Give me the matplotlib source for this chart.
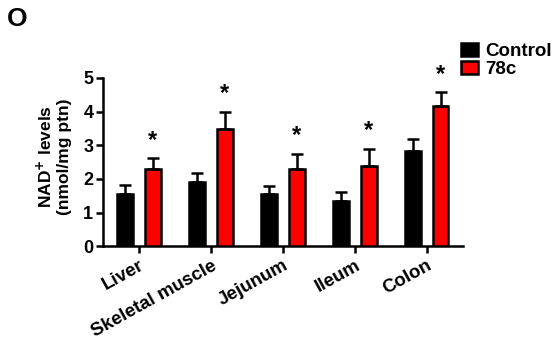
import numpy as np
import matplotlib
matplotlib.use("Agg")
import matplotlib.pyplot as plt

plt.rcParams['font.family'] = ['Liberation Sans', 'DejaVu Sans']
plt.rcParams['font.weight'] = 'bold'

tissues = ["Liver", "Skeletal muscle", "Jejunum", "Ileum", "Colon"]
control_mean = [1.55, 1.92, 1.55, 1.33, 2.82]
control_err = [0.28, 0.26, 0.23, 0.29, 0.35]
treat_mean = [2.30, 3.47, 2.30, 2.38, 4.17]
treat_err = [0.31, 0.53, 0.45, 0.50, 0.40]
signif = ["*", "*", "*", "*", "*"]

fig = plt.figure(figsize=(5.57, 3.40), dpi=100)
ax = fig.add_axes([0.185, 0.276, 0.646, 0.495])

x = np.arange(len(tissues))
off = 0.19
w = 0.22
lw = 1.8

ax.bar(x - off, control_mean, w, color="black", edgecolor="black", linewidth=lw,
       yerr=[np.zeros(len(x)), control_err], capsize=4,
       error_kw=dict(elinewidth=lw, capthick=lw, ecolor="black"), label="Control", zorder=3)
ax.bar(x + off, treat_mean, w, color="#ff0000", edgecolor="black", linewidth=lw,
       yerr=[np.zeros(len(x)), treat_err], capsize=4,
       error_kw=dict(elinewidth=lw, capthick=lw, ecolor="black"), label="78c", zorder=3)

for xi, m, e, s in zip(x, treat_mean, treat_err, signif):
    ax.text(xi + off, m + e + 0.2, s, ha="center", va="bottom", fontsize=17, fontweight="bold")

ax.set_xlim(-0.5, 4.5)
ax.set_ylim(0, 5)
ax.set_yticks(range(6))
ax.set_xticks(x)
ax.set_xticklabels(tissues, rotation=29, ha="right", rotation_mode="anchor", fontsize=13.5)
ax.tick_params(axis="y", labelsize=13, width=lw, length=5, pad=2)
ax.tick_params(axis="x", width=lw, length=5, pad=3)
for sp in ["top", "right"]:
    ax.spines[sp].set_visible(False)
for sp in ["left", "bottom"]:
    ax.spines[sp].set_linewidth(lw)
ax.set_ylabel("NAD$^{+}$ levels\n(nmol/mg ptn)", fontsize=12.5, fontweight="bold",
              linespacing=1.25)
ax.yaxis.set_label_coords(-0.085, 0.53)

leg = ax.legend(loc="upper left", bbox_to_anchor=(0.975, 1.25), frameon=False,
                fontsize=13.5, handlelength=0.9, handleheight=0.65, handletextpad=0.4,
                borderaxespad=0, labelspacing=0.05)

fig.text(0.013, 0.978, "O", fontsize=19, fontweight="bold", va="top")

fig.savefig("out.png", dpi=100)
